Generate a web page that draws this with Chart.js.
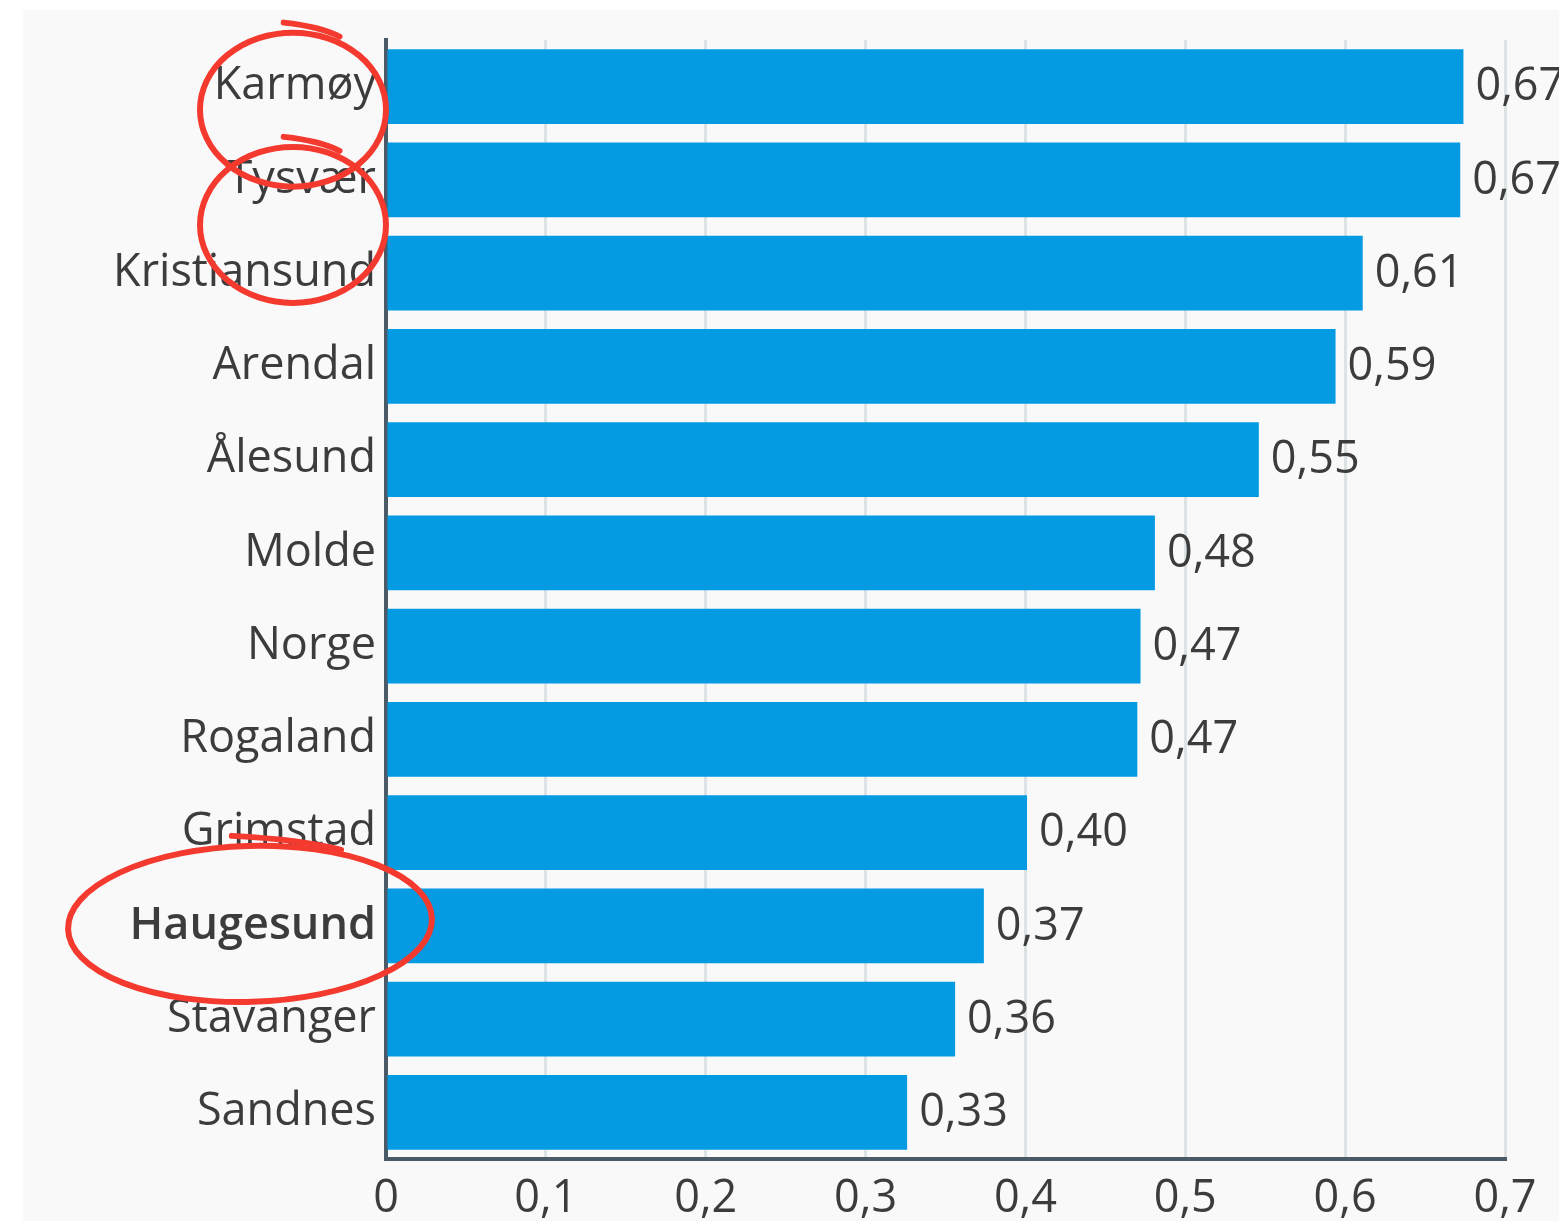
<!DOCTYPE html>
<html>
<head>
<meta charset="utf-8">
<script src="https://cdn.jsdelivr.net/npm/chart.js@4"></script>
<style>
  html, body { margin: 0; padding: 0; background: #fff; }
  #wrap {
    position: absolute; left: 23px; top: 10px;
    width: 1536px; height: 1211px;
    background: #f9f9f9; overflow: hidden;
  }
</style>
</head>
<body>
<div id="wrap"><canvas id="jsChart"></canvas></div>
<script>
// kommuner / områder, sortert som i figuren
const labels = ['Karmøy', 'Tysvær', 'Kristiansund', 'Arendal', 'Ålesund', 'Molde',
  'Norge', 'Rogaland', 'Grimstad', 'Haugesund', 'Stavanger', 'Sandnes'];
const values = [0.674, 0.672, 0.611, 0.594, 0.546, 0.481, 0.472, 0.470, 0.401, 0.374, 0.356, 0.326];
const xTicks = [0, 0.1, 0.2, 0.3, 0.4, 0.5, 0.6, 0.7];
const highlighted = ['Haugesund'];
const circled = ['Karmøy', 'Tysvær', 'Haugesund'];

const fmt = (v, d) => v === 0 ? '0' : v.toFixed(d).replace('.', ',');

Chart.defaults.font.family = "'Open Sans', sans-serif";
Chart.defaults.color = '#3c3c3c';

// verdier til høyre for søylene
const valueLabels = {
  id: 'valueLabels',
  afterDatasetsDraw(chart) {
    const ctx = chart.ctx;
    const meta = chart.getDatasetMeta(0);
    ctx.save();
    ctx.font = "45px 'Open Sans'";
    ctx.fillStyle = '#3c3c3c';
    ctx.textBaseline = 'middle';
    ctx.textAlign = 'left';
    meta.data.forEach((bar, i) => {
      ctx.fillText(fmt(values[i], 2), bar.x + 12, bar.y + 1);
    });
    ctx.restore();
  }
};

// røde sirkler rundt noen av navnene
const redCircles = {
  id: 'redCircles',
  afterDraw(chart, args, opts) {
    const ctx = chart.ctx;
    const y = chart.scales.y;
    const left = chart.chartArea.left;
    ctx.save();
    ctx.strokeStyle = '#f43a2f';
    ctx.lineWidth = 6;
    ctx.lineCap = 'round';
    opts.marks.forEach(m => {
      const idx = labels.indexOf(m.label);
      if (idx < 0) return;
      const cy = y.getPixelForTick(idx) + m.dy;
      const cx = left + m.dx;
      ctx.beginPath();
      ctx.ellipse(cx, cy, m.rx, m.ry, m.rot, 0, Math.PI * 2);
      ctx.stroke();
      // liten hale øverst der pennen startet
      ctx.beginPath();
      ctx.moveTo(cx - m.rx * 0.1, cy - m.ry - 10);
      ctx.quadraticCurveTo(cx + m.rx * 0.3, cy - m.ry - 6, cx + m.rx * 0.5, cy - m.ry + 4);
      ctx.stroke();
    });
    ctx.restore();
  }
};

const ctx = document.getElementById('jsChart');

new Chart(ctx, {
  type: 'bar',
  data: {
    labels: labels,
    datasets: [{
      data: values,
      backgroundColor: '#049be3',
      barPercentage: 0.8,
      categoryPercentage: 1.0,
    }],
  },
  options: {
    indexAxis: 'y',
    responsive: true,
    maintainAspectRatio: false,
    animation: false,
    layout: { padding: { top: 30, right: 54, bottom: 0, left: 0 } },
    plugins: {
      legend: { display: false },
      tooltip: { enabled: false },
      redCircles: {
        marks: [
          { label: circled[0], dx: -93, dy: 23, rx: 93, ry: 77, rot: 0 },
          { label: circled[1], dx: -93, dy: 45, rx: 93, ry: 78, rot: 0 },
          { label: circled[2], dx: -136, dy: -2, rx: 182, ry: 78, rot: -0.03 },
        ],
      },
    },
    scales: {
      x: {
        type: 'linear',
        min: xTicks[0],
        max: xTicks[xTicks.length - 1],
        afterFit: (s) => { s.height = 62; },
        afterBuildTicks: (s) => { s.ticks = xTicks.map(v => ({ value: v })); },
        grid: { color: '#dde2e5', lineWidth: 3, drawTicks: false },
        border: { color: '#4a5a66', width: 4 },
        ticks: {
          font: { size: 45 },
          padding: 13,
          callback: (v) => fmt(v, 1),
        },
      },
      y: {
        afterFit: (s) => {
          s.width = 363;
          s.paddingTop = 0;
          s.paddingBottom = 0;
        },
        grid: { display: false, drawTicks: false },
        border: { color: '#4a5a66', width: 4 },
        ticks: {
          padding: 10,
          font: (c) => ({
            size: 45,
            weight: highlighted.includes(labels[c.index]) ? '600' : 'normal',
          }),
        },
      },
    },
  },
  plugins: [valueLabels, redCircles],
});
</script>
</body>
</html>
